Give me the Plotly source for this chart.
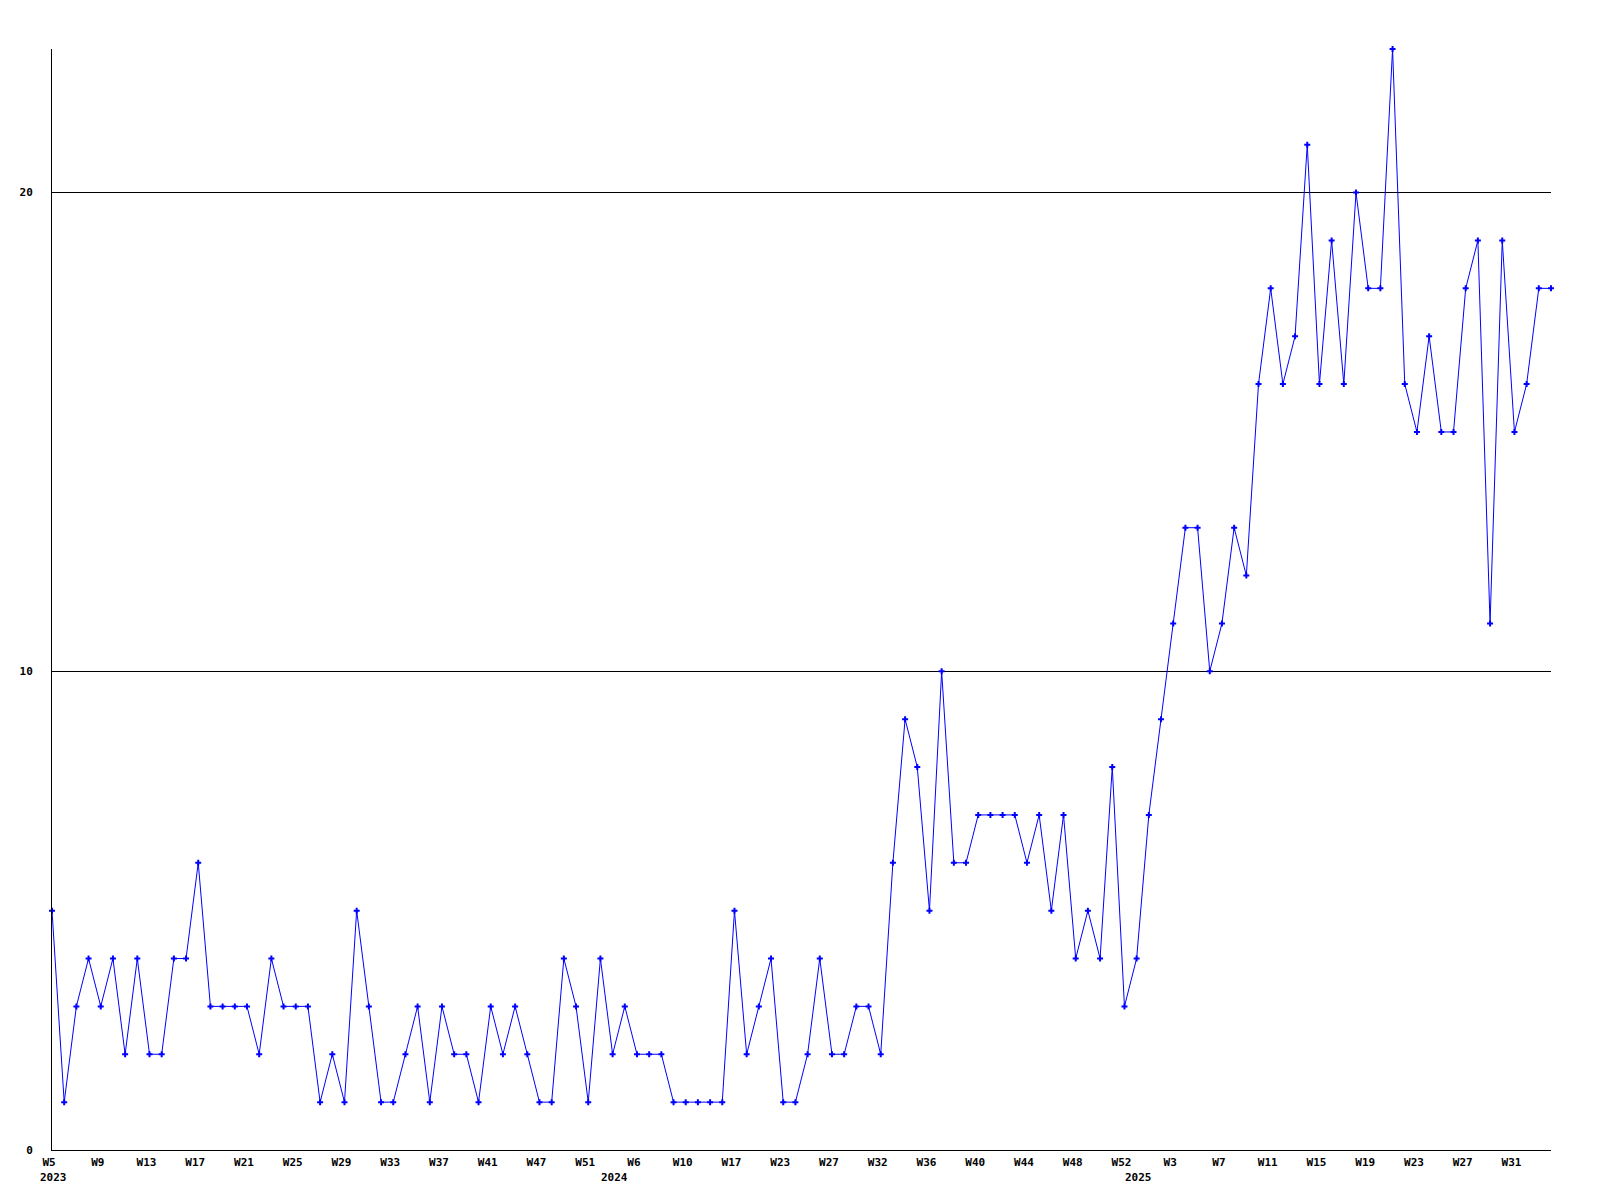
import plotly.graph_objects as go

# Week categories (one per data point)
weeks_2023 = [f"2023-W{w}" for w in range(5, 42)] + ["2023-W42", "2023-W44", "2023-W45"] + \
             [f"2023-W{w}" for w in range(47, 53)]
weeks_2024 = ["2024-W1", "2024-W3", "2024-W6", "2024-W7", "2024-W8", "2024-W9", "2024-W10",
              "2024-W12", "2024-W14", "2024-W15", "2024-W17", "2024-W18", "2024-W20", "2024-W22",
              "2024-W23", "2024-W24", "2024-W25", "2024-W26", "2024-W27", "2024-W28", "2024-W29",
              "2024-W31"] + [f"2024-W{w}" for w in range(32, 53)]
weeks_2025 = [f"2025-W{w}" for w in range(0, 35)]
weeks = weeks_2023 + weeks_2024 + weeks_2025

values = [
    5, 1, 3, 4, 3, 4, 2, 4, 2, 2,
    4, 4, 6, 3, 3, 3, 3, 2, 4, 3,
    3, 3, 1, 2, 1, 5, 3, 1, 1, 2,
    3, 1, 3, 2, 2, 1, 3, 2, 3, 2,
    1, 1, 4, 3, 1, 4, 2, 3, 2, 2,
    2, 1, 1, 1, 1, 1, 5, 2, 3, 4,
    1, 1, 2, 4, 2, 2, 3, 3, 2, 6,
    9, 8, 5, 10, 6, 6, 7, 7, 7, 7,
    6, 7, 5, 7, 4, 5, 4, 8, 3, 4,
    7, 9, 11, 13, 13, 10, 11, 13, 12, 16,
    18, 16, 17, 21, 16, 19, 16, 20, 18, 18,
    23, 16, 15, 17, 15, 15, 18, 19, 11, 19,
    15, 16, 18, 18,
]

tick_weeks = weeks[::4]
tick_labels = [w.split("-")[1] for w in tick_weeks]
year_starts = ["2023-W5", "2024-W1", "2025-W0"]
year_labels = ["2023", "2024", "2025"]
y_ticks = [0, 10, 20]

FONT = dict(family="DejaVu Sans Mono", size=11, color="black", weight="bold")

fig = go.Figure()
fig.add_trace(go.Scatter(
    x=weeks, y=values, mode="lines+markers",
    line=dict(color="#0000ff", width=1),
    marker=dict(symbol="cross", size=5, color="#0000ff", line=dict(width=0)),
    cliponaxis=False,
    showlegend=False,
))

for wk, yr in zip(year_starts, year_labels):
    fig.add_annotation(x=wk, xref="x", y=0, yref="paper", text=yr, showarrow=False,
                       xanchor="left", yanchor="top", xshift=-14, yshift=-19, font=FONT)

fig.update_layout(
    width=1600, height=1200,
    margin=dict(l=41, r=57, t=41, b=58),
    paper_bgcolor="white", plot_bgcolor="white",
    xaxis=dict(type="category", categoryorder="array", categoryarray=weeks,
               range=[0, len(weeks) - 1],
               tickmode="array", tickvals=tick_weeks, ticktext=tick_labels,
               showgrid=False, showline=True, linecolor="black", linewidth=1,
               ticks="", tickfont=FONT, ticklabelstandoff=2, ticklabelshift=-3,
               zeroline=False),
    yaxis=dict(range=[0, 23], tickmode="array", tickvals=y_ticks,
               showgrid=True, gridcolor="black", gridwidth=1,
               showline=True, linecolor="black", linewidth=1,
               ticks="", tickfont=FONT, ticklabelstandoff=16, zeroline=False),
)

fig.write_html("out.html")
